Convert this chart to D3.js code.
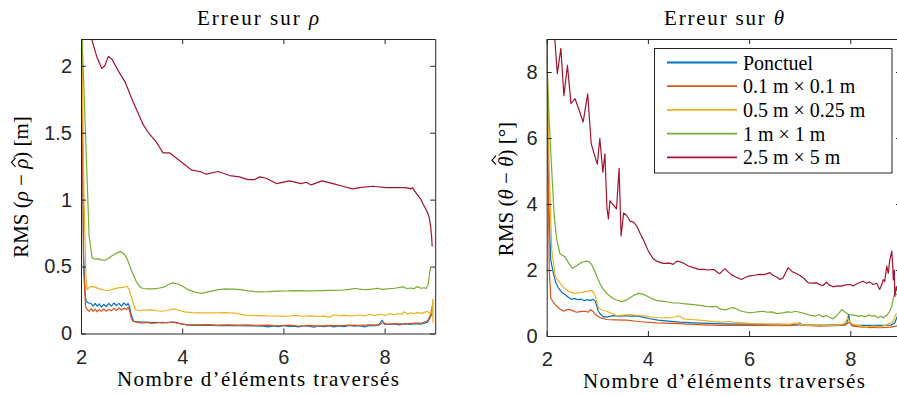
<!DOCTYPE html>
<html>
<head>
<meta charset="utf-8">
<script src="https://cdn.jsdelivr.net/npm/d3@7"></script>
<style>
  html, body { margin: 0; padding: 0; background: #fff; }
  svg { display: block; }
  .tick text { font-family: "Liberation Sans", Arial, sans-serif; font-size: 20px; fill: #262626; }
  .tick line, .domain { stroke: #262626; }
  .serif { font-family: "Liberation Serif", "Times New Roman", serif; fill: #000; }
</style>
</head>
<body>
<svg id="fig" width="897" height="395"></svg>
<script>
// ---- tick values -------------------------------------------------------
const xTicks = [2, 4, 6, 8];
const rhoTicks = [0, 0.5, 1, 1.5, 2];
const thetaTicks = [0, 2, 4, 6, 8];

// ---- series names and colours ------------------------------------------
const seriesNames = ["Ponctuel", "0.1 m \u00d7 0.1 m", "0.5 m \u00d7 0.25 m", "1 m \u00d7 1 m", "2.5 m \u00d7 5 m"];
const seriesColors = ["#0072BD", "#D95319", "#EDB120", "#77AC30", "#A2142F"];

// ---- RMS error on rho [m], [elements crossed, value] --------------------
const rhoPonctuel = [[2.0,2.8],[2.05,0.6],[2.08,0.3],[2.10,0.241],[2.15,0.228],[2.20,0.224],[2.24,0.205],[2.28,0.225],[2.32,0.205],[2.36,0.222],[2.40,0.198],[2.45,0.218],[2.50,0.2],[2.55,0.225],[2.60,0.205],[2.65,0.228],[2.70,0.208],[2.75,0.225],[2.80,0.205],[2.85,0.228],[2.90,0.21],[2.93,0.225],[2.96,0.2],[2.99,0.142],[3.04,0.092],[3.1,0.088],[3.2,0.086],[3.3,0.085],[3.4,0.082],[3.5,0.084],[3.6,0.08],[3.7,0.082],[3.84,0.085],[3.95,0.075],[4.11,0.062],[4.3,0.06],[4.5,0.062],[4.7,0.058],[4.9,0.06],[5.1,0.058],[5.3,0.056],[5.49,0.057],[5.6,0.055],[5.7,0.05],[5.8,0.057],[5.9,0.052],[6.0,0.058],[6.1,0.053],[6.2,0.055],[6.3,0.05],[6.4,0.058],[6.5,0.054],[6.6,0.048],[6.7,0.056],[6.8,0.052],[6.9,0.058],[7.0,0.05],[7.1,0.057],[7.2,0.052],[7.3,0.06],[7.4,0.054],[7.5,0.058],[7.6,0.05],[7.7,0.06],[7.8,0.056],[7.88,0.062],[7.95,0.099],[8.0,0.07],[8.1,0.068],[8.2,0.072],[8.3,0.065],[8.4,0.075],[8.5,0.068],[8.6,0.074],[8.7,0.07],[8.8,0.078],[8.85,0.085],[8.9,0.12],[8.94,0.15]];
const rhoSmall = [[2.0,2.9],[2.05,0.5],[2.09,0.2],[2.12,0.179],[2.16,0.165],[2.20,0.185],[2.24,0.165],[2.28,0.182],[2.32,0.162],[2.36,0.18],[2.40,0.165],[2.45,0.183],[2.50,0.168],[2.55,0.182],[2.60,0.17],[2.65,0.188],[2.70,0.172],[2.75,0.19],[2.80,0.175],[2.85,0.188],[2.90,0.18],[2.93,0.196],[2.96,0.17],[2.99,0.12],[3.03,0.09],[3.1,0.085],[3.2,0.078],[3.3,0.082],[3.4,0.076],[3.5,0.08],[3.6,0.084],[3.7,0.08],[3.8,0.086],[3.9,0.078],[4.0,0.07],[4.1,0.066],[4.3,0.064],[4.5,0.066],[4.7,0.063],[4.9,0.065],[5.1,0.062],[5.3,0.064],[5.5,0.06],[5.7,0.062],[5.9,0.058],[6.1,0.062],[6.3,0.056],[6.5,0.06],[6.7,0.055],[6.9,0.06],[7.1,0.058],[7.3,0.062],[7.5,0.06],[7.7,0.064],[7.9,0.065],[7.97,0.08],[8.05,0.07],[8.2,0.074],[8.4,0.07],[8.6,0.078],[8.75,0.08],[8.85,0.095],[8.9,0.13],[8.94,0.2],[8.96,0.23]];
const rhoMedium = [[2.0,2.6],[2.06,1.0],[2.1,0.4],[2.12,0.328],[2.17,0.348],[2.22,0.35],[2.27,0.348],[2.35,0.335],[2.45,0.325],[2.53,0.321],[2.62,0.33],[2.73,0.341],[2.83,0.345],[2.91,0.353],[2.95,0.33],[2.99,0.279],[3.07,0.179],[3.15,0.172],[3.26,0.174],[3.39,0.176],[3.5,0.17],[3.58,0.166],[3.7,0.172],[3.84,0.184],[3.95,0.172],[4.04,0.162],[4.2,0.156],[4.31,0.154],[4.5,0.155],[4.70,0.154],[4.85,0.156],[5.03,0.152],[5.15,0.145],[5.23,0.137],[5.35,0.136],[5.49,0.134],[5.7,0.131],[5.9,0.13],[6.09,0.129],[6.2,0.133],[6.29,0.134],[6.4,0.129],[6.55,0.131],[6.7,0.127],[6.8,0.13],[6.91,0.122],[7.0,0.14],[7.1,0.133],[7.2,0.136],[7.3,0.131],[7.41,0.134],[7.5,0.138],[7.6,0.131],[7.7,0.142],[7.8,0.136],[7.93,0.144],[8.0,0.134],[8.1,0.148],[8.2,0.14],[8.26,0.149],[8.33,0.142],[8.39,0.162],[8.45,0.145],[8.52,0.155],[8.59,0.147],[8.65,0.158],[8.72,0.15],[8.8,0.16],[8.85,0.166],[8.9,0.144],[8.94,0.17],[8.95,0.255],[8.955,0.085],[8.96,0.24]];
const rhoLarge = [[2.0,2.45],[2.16,0.73],[2.22,0.565],[2.28,0.555],[2.34,0.557],[2.40,0.55],[2.47,0.547],[2.54,0.56],[2.60,0.577],[2.70,0.60],[2.78,0.612],[2.86,0.59],[2.92,0.55],[2.99,0.478],[3.09,0.39],[3.16,0.35],[3.22,0.336],[3.33,0.333],[3.45,0.333],[3.55,0.34],[3.65,0.348],[3.75,0.37],[3.81,0.378],[3.91,0.37],[4.0,0.355],[4.11,0.328],[4.25,0.31],[4.37,0.30],[4.45,0.305],[4.57,0.316],[4.70,0.326],[4.83,0.333],[5.0,0.331],[5.16,0.328],[5.3,0.318],[5.49,0.311],[5.7,0.313],[5.9,0.317],[6.09,0.318],[6.3,0.321],[6.5,0.319],[6.75,0.321],[6.9,0.322],[7.14,0.323],[7.3,0.33],[7.41,0.336],[7.55,0.33],[7.67,0.328],[7.78,0.333],[7.86,0.338],[7.95,0.33],[8.06,0.333],[8.2,0.338],[8.3,0.345],[8.36,0.348],[8.44,0.336],[8.52,0.34],[8.58,0.335],[8.64,0.35],[8.72,0.338],[8.78,0.342],[8.82,0.336],[8.86,0.366],[8.90,0.478],[8.91,0.49]];
const rhoVehicle = [[2.0,3.0],[2.21,2.2],[2.31,2.07],[2.41,1.98],[2.47,2.0],[2.54,2.07],[2.61,2.05],[2.74,1.96],[2.87,1.88],[3.03,1.73],[3.23,1.56],[3.33,1.5],[3.49,1.43],[3.62,1.35],[3.75,1.35],[3.95,1.29],[4.19,1.22],[4.35,1.21],[4.48,1.19],[4.71,1.21],[4.94,1.18],[5.13,1.17],[5.30,1.15],[5.43,1.15],[5.53,1.17],[5.66,1.16],[5.86,1.12],[6.12,1.14],[6.35,1.12],[6.45,1.13],[6.55,1.11],[6.76,1.14],[6.98,1.12],[7.17,1.10],[7.37,1.08],[7.50,1.09],[7.77,1.10],[8.03,1.09],[8.42,1.09],[8.52,1.08],[8.55,1.09],[8.62,1.05],[8.72,1.0],[8.75,0.975],[8.80,0.94],[8.84,0.91],[8.88,0.87],[8.91,0.80],[8.93,0.72],[8.94,0.65]];

// ---- RMS error on theta [deg] -------------------------------------------
const thetaPonctuel = [[2.0,9.5],[2.04,4.0],[2.08,2.3],[2.13,1.91],[2.18,1.62],[2.23,1.46],[2.3,1.32],[2.36,1.26],[2.42,1.18],[2.49,1.11],[2.55,1.14],[2.62,1.10],[2.68,1.12],[2.74,1.07],[2.80,1.10],[2.86,1.08],[2.92,1.11],[2.96,1.05],[3.02,0.75],[3.07,0.65],[3.12,0.58],[3.2,0.58],[3.32,0.62],[3.45,0.6],[3.55,0.62],[3.65,0.60],[3.78,0.61],[3.9,0.57],[4.01,0.53],[4.2,0.48],[4.4,0.45],[4.63,0.42],[4.9,0.40],[5.2,0.38],[5.5,0.37],[5.8,0.36],[6.0,0.36],[6.3,0.35],[6.6,0.35],[6.9,0.34],[7.2,0.33],[7.5,0.33],[7.7,0.34],[7.85,0.33],[7.93,0.38],[7.97,0.66],[7.99,0.4],[8.03,0.32],[8.3,0.32],[8.6,0.32],[8.8,0.33],[8.88,0.4],[8.93,0.6]];
const thetaSmall = [[2.0,9.5],[2.05,2.0],[2.08,1.15],[2.14,1.0],[2.20,0.90],[2.26,0.82],[2.33,0.75],[2.40,0.8],[2.46,0.80],[2.52,0.76],[2.59,0.72],[2.66,0.74],[2.76,0.75],[2.82,0.72],[2.86,0.80],[2.91,0.76],[2.96,0.65],[3.06,0.55],[3.19,0.50],[3.35,0.49],[3.58,0.48],[3.8,0.44],[4.17,0.40],[4.5,0.38],[4.8,0.36],[5.1,0.34],[5.43,0.32],[5.8,0.33],[6.2,0.32],[6.6,0.31],[6.9,0.32],[7.0,0.40],[7.05,0.33],[7.4,0.3],[7.7,0.31],[7.9,0.33],[7.98,0.42],[8.05,0.3],[8.3,0.26],[8.6,0.25],[8.8,0.27],[8.9,0.3],[8.95,0.32]];
const thetaMedium = [[2.0,9.5],[2.05,5.0],[2.1,2.6],[2.17,1.81],[2.26,1.61],[2.33,1.48],[2.40,1.39],[2.48,1.32],[2.56,1.29],[2.64,1.31],[2.72,1.33],[2.80,1.35],[2.89,1.38],[2.93,1.30],[2.96,1.21],[3.02,0.86],[3.1,0.78],[3.19,0.75],[3.28,0.68],[3.38,0.62],[3.5,0.63],[3.65,0.65],[3.75,0.63],[3.84,0.62],[3.95,0.6],[4.04,0.58],[4.2,0.56],[4.37,0.55],[4.5,0.56],[4.57,0.60],[4.63,0.6],[4.70,0.52],[4.85,0.5],[5.03,0.48],[5.2,0.45],[5.43,0.42],[5.6,0.44],[5.75,0.41],[5.9,0.4],[6.0,0.38],[6.2,0.37],[6.4,0.36],[6.6,0.36],[6.8,0.35],[6.93,0.40],[7.0,0.36],[7.1,0.33],[7.3,0.33],[7.5,0.32],[7.66,0.32],[7.8,0.34],[7.88,0.38],[7.95,0.54],[7.98,0.45],[8.04,0.35],[8.15,0.32],[8.3,0.27],[8.45,0.3],[8.6,0.28],[8.7,0.33],[8.8,0.4],[8.85,0.45],[8.9,0.66],[8.95,0.7]];
const thetaLarge = [[2.0,8.5],[2.05,6.5],[2.1,5.0],[2.15,3.6],[2.20,2.91],[2.26,2.50],[2.31,2.45],[2.36,2.40],[2.44,2.2],[2.51,2.05],[2.58,2.12],[2.66,2.20],[2.72,2.25],[2.79,2.27],[2.85,2.24],[2.89,2.16],[2.94,2.0],[2.99,1.81],[3.05,1.6],[3.12,1.41],[3.2,1.27],[3.29,1.16],[3.38,1.09],[3.48,1.04],[3.56,1.08],[3.65,1.16],[3.73,1.24],[3.81,1.29],[3.9,1.27],[3.98,1.21],[4.08,1.13],[4.17,1.08],[4.3,1.05],[4.40,1.03],[4.50,1.0],[4.60,1.0],[4.70,0.98],[4.85,0.96],[5.03,0.93],[5.15,0.9],[5.30,0.88],[5.36,0.90],[5.42,0.82],[5.50,0.80],[5.56,0.80],[5.62,0.84],[5.69,0.86],[5.75,0.82],[5.85,0.75],[5.95,0.72],[6.02,0.70],[6.1,0.72],[6.2,0.74],[6.28,0.75],[6.36,0.72],[6.45,0.73],[6.55,0.68],[6.67,0.70],[6.75,0.73],[6.85,0.72],[6.91,0.75],[7.0,0.72],[7.1,0.68],[7.2,0.63],[7.30,0.60],[7.38,0.65],[7.45,0.58],[7.53,0.62],[7.60,0.56],[7.66,0.52],[7.72,0.6],[7.78,0.7],[7.83,0.80],[7.9,0.72],[7.96,0.65],[8.05,0.64],[8.15,0.6],[8.22,0.62],[8.3,0.58],[8.36,0.64],[8.42,0.60],[8.48,0.62],[8.55,0.55],[8.6,0.6],[8.65,0.55],[8.72,0.62],[8.78,0.75],[8.82,0.9],[8.85,1.15],[8.88,1.3],[8.92,1.25],[8.96,1.3]];
const thetaVehicle = [[2.0,12],[2.16,9.0],[2.21,7.95],[2.28,8.72],[2.34,7.28],[2.41,8.2],[2.48,7.04],[2.56,7.19],[2.64,6.85],[2.72,6.48],[2.81,7.34],[2.88,5.82],[3.00,5.21],[3.05,5.99],[3.11,4.96],[3.15,5.52],[3.19,3.9],[3.22,3.55],[3.25,4.1],[3.3,4.0],[3.38,3.85],[3.43,5.08],[3.47,3.03],[3.52,3.73],[3.58,3.65],[3.65,3.48],[3.72,3.45],[3.78,3.33],[3.85,3.1],[3.91,2.92],[4.01,2.57],[4.1,2.35],[4.17,2.27],[4.30,2.2],[4.43,2.21],[4.50,2.17],[4.57,2.27],[4.63,2.25],[4.70,2.21],[4.80,2.12],[4.90,2.07],[5.0,2.02],[5.10,2.02],[5.2,2.0],[5.30,2.02],[5.36,1.95],[5.42,1.89],[5.52,2.04],[5.58,1.95],[5.65,1.86],[5.75,1.78],[5.85,1.71],[5.93,1.78],[6.01,1.82],[6.1,1.84],[6.21,1.87],[6.3,1.86],[6.41,1.92],[6.47,1.84],[6.55,1.78],[6.61,1.71],[6.67,1.76],[6.77,2.07],[6.85,1.95],[6.92,1.9],[7.0,1.84],[7.08,1.75],[7.17,1.61],[7.25,1.6],[7.33,1.61],[7.40,1.55],[7.46,1.53],[7.53,1.63],[7.58,1.55],[7.66,1.49],[7.75,1.52],[7.83,1.51],[7.9,1.55],[7.99,1.56],[8.06,1.52],[8.15,1.6],[8.25,1.66],[8.32,1.6],[8.38,1.64],[8.45,1.56],[8.52,1.6],[8.58,1.41],[8.62,1.55],[8.65,1.71],[8.68,1.65],[8.72,2.12],[8.75,1.9],[8.78,2.3],[8.82,2.57],[8.84,2.1],[8.85,1.7],[8.87,2.0],[8.88,1.2],[8.91,1.5],[8.94,1.3],[8.97,1.6]];

const rhoSeries = [rhoPonctuel, rhoSmall, rhoMedium, rhoLarge, rhoVehicle];
const thetaSeries = [thetaPonctuel, thetaSmall, thetaMedium, thetaLarge, thetaVehicle];

const svg = d3.select("#fig");

// One panel: framed axes with inward ticks on all four sides
function panel(opts) {
  const { id, left, right, top, bottom, yMax, yTicks, series } = opts;
  const x = d3.scaleLinear().domain([2, 9]).range([left, right]);
  const y = d3.scaleLinear().domain([0, yMax]).range([bottom, top]);
  const fmt = d => String(d);

  svg.append("clipPath").attr("id", "clip-" + id)
    .append("rect").attr("x", left).attr("y", top)
    .attr("width", right - left).attr("height", bottom - top);

  const lines = svg.append("g").attr("clip-path", `url(#clip-${id})`);
  const line = d3.line().x(d => x(d[0])).y(d => y(d[1]));
  series.forEach((s, i) => {
    lines.append("path").datum(s)
      .attr("d", line)
      .attr("fill", "none")
      .attr("stroke", seriesColors[i])
      .attr("stroke-width", 1.2)
      .attr("stroke-linejoin", "round");
  });

  svg.append("g").attr("transform", `translate(0,${bottom})`)
    .call(d3.axisBottom(x).tickValues(xTicks).tickFormat(fmt).tickSize(-5).tickSizeOuter(0).tickPadding(16));
  svg.append("g").attr("transform", `translate(0,${top})`)
    .call(d3.axisTop(x).tickValues(xTicks).tickFormat("").tickSize(-5).tickSizeOuter(0));
  svg.append("g").attr("transform", `translate(${left},0)`)
    .call(d3.axisLeft(y).tickValues(yTicks).tickFormat(fmt).tickSize(-5).tickSizeOuter(0).tickPadding(9));
  svg.append("g").attr("transform", `translate(${right},0)`)
    .call(d3.axisRight(y).tickValues(yTicks).tickFormat("").tickSize(-5).tickSizeOuter(0));
  svg.selectAll(".domain").attr("stroke-width", 1);
  return { x, y };
}

panel({ id: "rho", left: 81, right: 435.2, top: 39, bottom: 333.5, yMax: 2.2, yTicks: rhoTicks, series: rhoSeries });
panel({ id: "theta", left: 546.7, right: 900.9, top: 39, bottom: 336, yMax: 9, yTicks: thetaTicks, series: thetaSeries });

// Text made of plain and italic runs; runs with a "hat" height get a circumflex drawn above
function mathText(t, parts) {
  const hats = [];
  let idx = 0;
  parts.forEach(p => {
    const s = t.append("tspan").text(p.t);
    if (p.i) s.attr("font-style", "italic");
    if (p.hat) hats.push({ i: idx, h: p.hat });
    idx += p.t.length;
  });
  return hats;
}

function drawHats(g, t, hats) {
  const node = t.node();
  hats.forEach(({ i, h }) => {
    const a = node.getStartPositionOfChar(i).x;
    const b = node.getEndPositionOfChar(i).x;
    const cx = (a + b) / 2 + 1.5;
    g.append("path")
      .attr("d", `M${cx - 4.5},${-h} L${cx},${-h - 4} L${cx + 4.5},${-h}`)
      .attr("fill", "none").attr("stroke", "#000").attr("stroke-width", 1.1);
  });
}

const t1 = svg.append("text").attr("class", "serif").attr("x", 258).attr("y", 25)
  .attr("text-anchor", "middle").attr("font-size", 21)
  .attr("textLength", 122).attr("lengthAdjust", "spacing");
mathText(t1, [{ t: "Erreur sur " }, { t: "\u03c1", i: true }]);

const t2 = svg.append("text").attr("class", "serif").attr("x", 724).attr("y", 25)
  .attr("text-anchor", "middle").attr("font-size", 21)
  .attr("textLength", 120).attr("lengthAdjust", "spacing");
mathText(t2, [{ t: "Erreur sur " }, { t: "\u03b8", i: true }]);

[258, 724].forEach((cx, k) => {
  svg.append("text").attr("class", "serif").attr("x", cx).attr("y", k ? 388 : 386)
    .attr("text-anchor", "middle").attr("font-size", 21)
    .attr("textLength", 282).attr("lengthAdjust", "spacing")
    .text("Nombre d\u2019\u00e9l\u00e9ments travers\u00e9s");
});

function yLabel(tx, ty, parts) {
  const g = svg.append("g").attr("transform", `translate(${tx},${ty}) rotate(-90)`);
  const t = g.append("text").attr("class", "serif").attr("x", 0).attr("y", 0)
    .attr("text-anchor", "middle").attr("font-size", 21);
  const hats = mathText(t, parts);
  drawHats(g, t, hats);
}

yLabel(28, 187, [{ t: "RMS (" }, { t: "\u03c1", i: true }, { t: " \u2212 " }, { t: "\u03c1", i: true, hat: 12.5 }, { t: ") [m]" }]);
yLabel(513, 189, [{ t: "RMS (" }, { t: "\u03b8", i: true }, { t: " \u2212 " }, { t: "\u03b8", i: true, hat: 17 }, { t: ") [\u00b0]" }]);

// Legend
const lg = svg.append("g");
lg.append("rect").attr("x", 654.5).attr("y", 48.5).attr("width", 237.5).attr("height", 124.5)
  .attr("fill", "#fff").attr("stroke", "#262626").attr("stroke-width", 1);
seriesNames.forEach((name, i) => {
  const cy = 62.5 + i * 23.7;
  lg.append("line").attr("x1", 667).attr("x2", 737).attr("y1", cy).attr("y2", cy)
    .attr("stroke", seriesColors[i]).attr("stroke-width", 1.8);
  lg.append("text").attr("class", "serif").attr("x", 743).attr("y", cy + 7)
    .attr("font-size", 20).text(name);
});
</script>
</body>
</html>
